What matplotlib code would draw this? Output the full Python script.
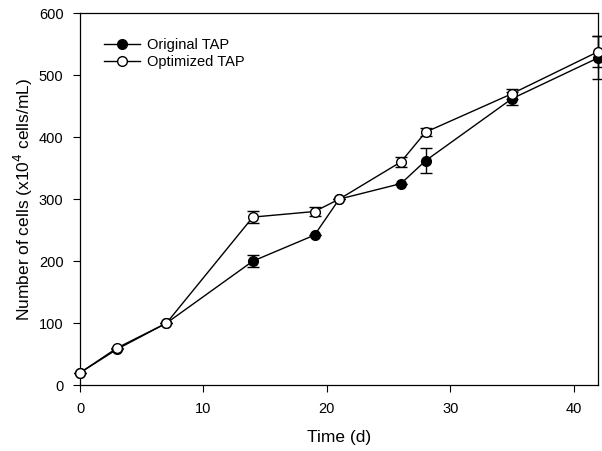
import matplotlib
matplotlib.use("Agg")
import matplotlib.pyplot as plt

plt.rcParams['font.family'] = ['Liberation Sans', 'DejaVu Sans']

# 数据
days = [0, 3, 7, 14, 19, 21, 26, 28, 35, 42]
original = [20, 58, 100, 200, 242, 300, 325, 362, 462, 528]
original_err = [0, 0, 0, 10, 0, 0, 0, 20, 10, 35]
optimized = [20, 60, 100, 271, 280, 300, 360, 408, 470, 538]
optimized_err = [0, 0, 0, 10, 8, 0, 8, 6, 8, 25]
labels = ['Original TAP', 'Optimized TAP']

fig = plt.figure(figsize=(6.02, 4.51), dpi=100)
ax = fig.add_axes([0.133, 0.146, 0.861, 0.825])

series = [
    (original, original_err, 'black', 3),
    (optimized, optimized_err, 'white', 4),
]
handles = []
for vals, err, face, z in series:
    c = ax.errorbar(days, vals, yerr=err, color='black', lw=1,
                    marker='o', ms=7, mfc=face, mec='black', capsize=4,
                    elinewidth=1, capthick=1, zorder=z)
    artists = [c[0]] + list(c[1]) + list(c[2])
    for artist in artists:
        artist.set_clip_on(False)
    handles.append(c[0])

ax.set_xlim(0, 42)
ax.set_ylim(0, 600)
ax.set_xticks([0, 10, 20, 30, 40])
ax.set_yticks([0, 100, 200, 300, 400, 500, 600])
ax.tick_params(direction='out', length=5, labelsize=10.5, pad=7)
for s in ax.spines.values():
    s.set_linewidth(0.9)
ax.set_xlabel('Time (d)', fontsize=12.5, labelpad=10)
ax.set_ylabel('Number of cells (x10$^4$ cells/mL)', fontsize=12.5, labelpad=3)

ax.legend(handles, labels, loc='upper left',
          bbox_to_anchor=(0.02, 0.967), frameon=False, fontsize=10.5,
          handlelength=2.5, labelspacing=0.2, handletextpad=0.5)

fig.savefig('out.png', dpi=100)
